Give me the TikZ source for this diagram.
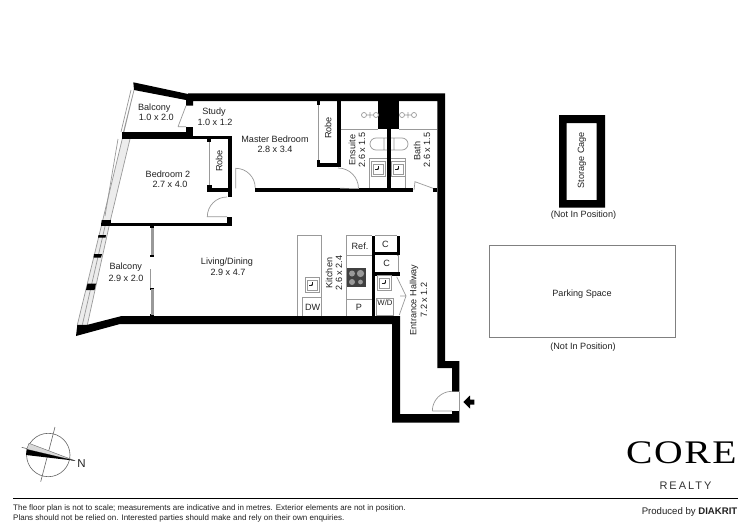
\documentclass[tikz,border=0pt]{standalone}
\usepackage{fontspec}
\setmainfont{Liberation Sans}
\newfontfamily\logofont[LetterSpace=4]{Liberation Serif}
\newfontfamily\realtyfont[LetterSpace=18]{Liberation Sans}
\definecolor{fixture}{gray}{0.6}
\definecolor{inktext}{gray}{0.13}
\tikzset{
  wall/.style={fill=black},
  fixline/.style={draw=fixture,line width=0.7pt},
  glass/.style={draw=fixture,fill=fixture,line width=0.5pt},
  room/.style={text=inktext,font=\fontsize{9.1}{10}\selectfont,inner sep=0pt},
  sink/.pic={
    \draw[fixline,fill=white] (-7,-7.5) rectangle (7,7.5);
    \draw[fixline] (-5,-5) rectangle (5,5);
    \fill[inktext] (0,0) circle (0.9pt);
    \draw[inktext,line width=0.4pt] (-3,0) -- (0,0) (0,-3) -- (0,0);
  },
  shower/.pic={
    \draw[fixline] (-6,0) circle (2.5pt) (6,0) circle (2.5pt) (-3,0) -- (3,0) (0,-3) -- (0,3);
  }
}
\begin{document}
\begin{tikzpicture}[x=1pt,y=-1pt]
\useasboundingbox (0,0) rectangle (750,530);
\fill[white] (0,0) rectangle (750,530);

% glazing
\draw[fixline,fill=gray!15] (134,90) -- (102.3,222) -- (77.3,325) -- (87.3,325) -- (110,222) -- (130,139) -- (123.5,131.7) -- cycle;
\draw[fixline] (131,90) -- (121,132) (106,222) -- (82.3,325) (118,139) -- (105,216);
\foreach \xa/\ya/\xb/\yb/\xc/\yc/\xd/\yd in {
  101.7/220/111/220/110.5/225.7/101/225.7,
  98.5/235/106/235/105.5/237.7/98/237.7,
  94/254/102/254/101/257.5/93.5/257.5,
  87.5/283.5/96/283.5/94.5/290/86/290}
  \fill[wall] (\xa,\ya) -- (\xb,\yb) -- (\xc,\yc) -- (\xd,\yd) -- cycle;

% outer walls
\fill[wall] (133.3,82.3) -- (188,94) -- (188,93.3) -- (445,93.3) -- (445,361) -- (459.3,361) -- (459.3,391.7) -- (452,391.7)
  -- (452,368) -- (437.3,368) -- (437.3,101) -- (193,101) -- (193,105.7) -- (186,105.7) -- (186,100) -- (134,90) -- cycle;
\fill[wall] (76,336) -- (120,324) -- (392,324) -- (392,422.7) -- (459.3,422.7) -- (459.3,411) -- (452,411) -- (452,414)
  -- (400,414) -- (400,316) -- (121.7,316) -- (86.7,325) -- (77.3,325) -- cycle;

% inner walls
\foreach \xa/\ya/\xb/\yb in {
  121.7/131.7/193/139, 186/126.7/193/139, 193/135.7/231.7/139, 227.7/135.7/231.7/196.7,
  207.3/187.7/231.7/191.7, 207.3/185/212/191.7, 207.3/139/211/142,
  101/222.7/231.7/225.7, 226.7/216.7/231.7/225.7,
  255/188.3/413/191.7, 433/188.3/437.3/191.7,
  337.3/101/340.7/166.7, 316.7/163.3/340.7/166.7, 316.7/160/320/166.7, 316.7/101/320/105,
  378.3/101/399.3/129, 387.3/129/390.7/188.3,
  371.7/235.7/375/316, 372/251.7/400/255, 375/271.7/400/275.7, 396.7/235.7/400/252,
  150.3/225.7/154/228, 150.3/254.5/154/256.7, 150.3/287.5/154/289.5, 150.3/314/154/316}
  \fill[wall] (\xa,\ya) rectangle (\xb,\yb);

% sliding doors
\draw[glass] (150.8,228) rectangle (153.5,254.5);
\draw[glass] (150.8,289.5) rectangle (153.5,314);
\draw[fixline] (150.3,269.3) -- (150.3,288.3);
\draw[fixline] (318,105) -- (318,160);
\draw[fixline] (209,142) -- (209,185);

% doors
\draw[fixline] (178,126.7) -- (186,105.7) (178,126.7) -- (186,126.7);
\draw[fixline] (235.7,188.3) -- (235.7,168.3) arc[start angle=90,end angle=0,radius=19.5pt];
\draw[fixline] (227,197) arc[start angle=90,end angle=180,radius=19.7pt] -- (227,216.7);
\draw[fixline] (338,168) arc[start angle=90,end angle=0,radius=20.5pt] -- (340,188.3);
\draw[fixline] (414,190) -- (415,181.7) -- (433,188.3);
\draw[fixline] (432.3,411) arc[start angle=180,end angle=90,radius=19.7pt] (432.3,411) -- (452,411);
\draw[fixline] (459.3,391.7) -- (459.3,411);
\draw[fixline] (396.7,276.7) -- (406,296) -- (399.3,315) (400,296) -- (406,296);

% wet rooms
\draw[fixline] (340.7,129) -- (378.3,129) (399.3,129) -- (437,129);
\pic at (370,115) {shower};
\pic at (408,115) {shower};
\draw[fixline] (387,138) -- (376,138) arc[start angle=90,end angle=270,radius=6pt] -- (387,150) (384,138) -- (384,150);
\draw[fixline] (391,138) -- (402,138) arc[start angle=90,end angle=-90,radius=6pt] -- (391,150) (394,138) -- (394,150);
\draw[fixline] (369.5,188) -- (369.5,158) -- (387.3,158);
\draw[fixline] (390.7,158) -- (405,158) -- (405,188);
\pic at (378,169) {sink};
\pic at (398,169) {sink};

% kitchen
\draw[fixline] (321.7,316) -- (321.7,235) -- (297.3,235) -- (297.3,316);
\draw[fixline] (302.7,316) -- (302.7,297.3) -- (321.7,297.3);
\draw[fixline] (346.7,316) -- (346.7,235.7) -- (371.7,235.7) (346.7,255) -- (371.7,255) (346.7,299.3) -- (371.7,299.3);
\draw[fixline] (375,235.7) -- (396.7,235.7) (396.7,255) -- (398,255) -- (398,271.7);
\fill[black!75] (346.7,268.3) rectangle (365.7,286.7);
\fill[black!40] (352,273.5) circle (3pt) (360.5,273.5) circle (3.6pt) (352,282) circle (3pt) (360.5,282) circle (2.4pt);
\pic at (312,285) {sink};
\pic at (384.7,283.2) {sink};
\draw[fixline] (376,298) rectangle (393.3,315);

% storage and parking
\fill[wall,even odd rule] (559,115) rectangle (605,207.7) (566.7,123) rectangle (596.7,200);
\draw[draw=black!50,line width=0.5pt] (489,245) rectangle (675,337);

% entrance arrow
\fill[wall] (463.3,402) -- (470,395.5) -- (470,399.5) -- (474.3,399.5) -- (474.3,404.5) -- (470,404.5) -- (470,408.5) -- cycle;

% compass
\draw[draw=black!60,line width=0.6pt] (48.3,455) circle (21.7pt);
\draw[draw=black!60,line width=0.6pt] (21.7,447.3) -- (75,460.7) (55,427) -- (40.7,481.7);
\filldraw[draw=black!60,fill=black!15,line width=0.4pt] (29,443.3) -- (26.7,449.3) -- (75,460.7) -- cycle;
\fill[black] (26.7,449.3) -- (26,455) -- (75,460.7) -- cycle;
\node[room,font=\fontsize{11.5}{12}\selectfont] (north) at (81.5,463.5) {N};

% room labels
\node[room] (balconytop) at (154.3,107.7) {Balcony};
\node[room] (balconytopsize) at (156.3,117.5) {1.0 x 2.0};
\node[room] (study) at (214,112.3) {Study};
\node[room] (studysize) at (215,122.5) {1.0 x 1.2};
\node[room] (bedroom) at (168,174.5) {Bedroom 2};
\node[room] (bedroomsize) at (170,184) {2.7 x 4.0};
\node[room,rotate=90] (robeleft) at (219,161) {Robe};
\node[room] (master) at (275,139) {Master Bedroom};
\node[room] (mastersize) at (275,149) {2.8 x 3.4};
\node[room,rotate=90] (roberight) at (328,128) {Robe};
\node[room,rotate=90] (ensuite) at (352,150) {Ensuite};
\node[room,rotate=90] (ensuitesize) at (362,150) {2.6 x 1.5};
\node[room,rotate=90] (bath) at (417,151) {Bath};
\node[room,rotate=90] (bathsize) at (427,150) {2.6 x 1.5};
\node[room] (living) at (227,262) {Living/Dining};
\node[room] (livingsize) at (228,272) {2.9 x 4.7};
\node[room] (balconylow) at (125.7,267.3) {Balcony};
\node[room] (balconylowsize) at (126,278) {2.9 x 2.0};
\node[room,rotate=90] (kitchen) at (329,273) {Kitchen};
\node[room,rotate=90] (kitchensize) at (339,273) {2.6 x 2.4};
\node[room] (ref) at (360,246) {Ref.};
\node[room] (cupa) at (385.5,244) {C};
\node[room] (cupb) at (386.7,263.5) {C};
\node[room] (dw) at (312.7,307) {DW};
\node[room] (pantry) at (359,307) {P};
\node[room,font=\fontsize{7.8}{9}\selectfont] (wd) at (385,303) {W/D};
\node[room,rotate=90] (hall) at (414,300) {Entrance Hallway};
\node[room,rotate=90] (hallsize) at (424,300) {7.2 x 1.2};
\node[room,rotate=90] (storage) at (582,160) {Storage Cage};
\node[room] (storagenote) at (583.5,215.5) {(Not In Position)};
\node[room] (parking) at (582,294) {Parking Space};
\node[room] (parkingnote) at (583,347) {(Not In Position)};

% footer
\draw[line width=1.3pt] (13,498.3) -- (737.5,498.3);
\node[room,anchor=base west,font=\fontsize{8}{9}\selectfont] (notea) at (13,510.5) {The floor plan is not to scale; measurements are indicative and in metres. Exterior elements are not in position.};
\node[room,anchor=base west,font=\fontsize{8}{9}\selectfont] (noteb) at (13,520.5) {Plans should not be relied on. Interested parties should make and rely on their own enquiries.};
\node[inner sep=0pt,anchor=base west,xscale=1.2,transform shape,font=\logofont\fontsize{33}{36}\selectfont] (core) at (626,463) {CORE};
\node[inner sep=0pt,font=\realtyfont\fontsize{11}{12}\selectfont,text=black!80] (realty) at (685.5,485.5) {REALTY};
\node[room,anchor=base east,font=\fontsize{9.6}{10}\selectfont] (credit) at (737.5,514) {Produced by \textbf{DIAKRIT}};
\end{tikzpicture}
\end{document}
